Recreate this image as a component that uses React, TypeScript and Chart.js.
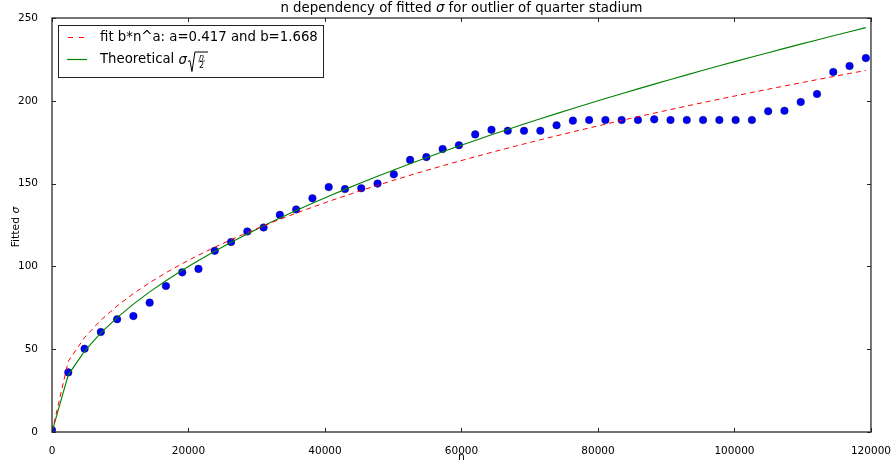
import React, { useEffect, useRef } from "react";
import { Chart, registerables } from "chart.js";

Chart.register(...registerables);

const nValues = [
  0, 2385, 4770, 7155, 9540, 11925, 14310, 16695, 19080, 21465, 23850, 26235, 28620, 31005, 33390, 35775,
  38160, 40545, 42930, 45315, 47700, 50085, 52470, 54855, 57240, 59625, 62010, 64395, 66780, 69165, 71550,
  73935, 76320, 78705, 81090, 83475, 85860, 88245, 90630, 93015, 95400, 97785, 100170, 102555, 104940,
  107325, 109710, 112095, 114480, 116865, 119250,
];

const sigmaValues = [
  1.2, 36.0, 50.3, 60.4, 68.1, 70.0, 78.1, 88.2, 96.4, 98.5, 109.4, 114.7, 121.1, 123.5, 131.1, 134.4,
  141.1, 147.9, 146.7, 147.2, 150.0, 155.6, 164.3, 166.0, 170.9, 173.2, 179.7, 182.5, 181.9, 181.9, 181.9,
  185.2, 188.0, 188.4, 188.4, 188.4, 188.4, 188.8, 188.4, 188.4, 188.4, 188.4, 188.4, 188.4, 193.7, 194.0,
  199.3, 204.1, 217.4, 221.0, 225.8,
];

// b*n^a with a=0.417, b=1.668 evaluated at nValues
const fitValues = [
  0, 42.72, 57.04, 67.55, 76.15, 83.58, 90.18, 96.17, 101.68, 106.79, 111.59, 116.12, 120.41, 124.49,
  128.4, 132.15, 135.75, 139.23, 142.59, 145.84, 148.99, 152.05, 155.03, 157.93, 160.76, 163.52, 166.22,
  168.85, 171.44, 173.96, 176.44, 178.87, 181.25, 183.59, 185.89, 188.15, 190.38, 192.57, 194.72, 196.84,
  198.93, 200.99, 203.02, 205.02, 206.99, 208.94, 210.87, 212.77, 214.64, 216.5, 218.33,
];

// sigma*sqrt(n/2) with sigma = 1 evaluated at nValues
const theoryValues = [
  0, 34.53, 48.84, 59.81, 69.07, 77.22, 84.59, 91.37, 97.67, 103.6, 109.2, 114.53, 119.63, 124.51, 129.21,
  133.75, 138.13, 142.38, 146.51, 150.53, 154.44, 158.25, 161.98, 165.62, 169.18, 172.67, 176.09, 179.44,
  182.73, 185.97, 189.15, 192.27, 195.35, 198.38, 201.36, 204.3, 207.2, 210.06, 212.88, 215.66, 218.41,
  221.12, 223.8, 226.45, 229.07, 231.66, 234.22, 236.75, 239.26, 241.73, 244.19,
];

const xTickValues = [0, 20000, 40000, 60000, 80000, 100000, 120000];
const yTickValues = [0, 50, 100, 150, 200, 250];

const titleParts = ["n dependency of fitted ", "σ", " for outlier of quarter stadium"];
const fitLabel = "fit b*n^a: a=0.417 and b=1.668";
const theoryLabel = "Theoretical ";
const xAxisLabel = "n";
const yAxisLabel = ["Fitted ", "σ"];

const FONT = "'DejaVu Sans', sans-serif";
const TICK_SIZE = 10.5;
const LABEL_SIZE = 10.8;
const BIG_SIZE = 13.3;

const decorPlugin = {
  id: "decor",
  afterDraw(chart: any) {
    const ctx: CanvasRenderingContext2D = chart.ctx;
    const a = chart.chartArea;
    const xs = chart.scales.x;
    const ys = chart.scales.y;
    ctx.save();

    // frame
    ctx.strokeStyle = "#3a3a3a";
    ctx.lineWidth = 1.4;
    ctx.strokeRect(a.left, a.top, a.right - a.left, a.bottom - a.top);

    // inward ticks on all sides
    const tl = 4;
    ctx.lineWidth = 1;
    ctx.strokeStyle = "#222";
    ctx.beginPath();
    for (const v of xTickValues) {
      const px = Math.round(xs.getPixelForValue(v)) + 0.5;
      ctx.moveTo(px, a.bottom);
      ctx.lineTo(px, a.bottom - tl);
      ctx.moveTo(px, a.top);
      ctx.lineTo(px, a.top + tl);
    }
    for (const v of yTickValues) {
      const py = Math.round(ys.getPixelForValue(v)) + 0.5;
      ctx.moveTo(a.left, py);
      ctx.lineTo(a.left + tl, py);
      ctx.moveTo(a.right, py);
      ctx.lineTo(a.right - tl, py);
    }
    ctx.stroke();

    ctx.fillStyle = "#000";
    ctx.textBaseline = "middle";

    // title
    const normal = `${BIG_SIZE}px ${FONT}`;
    const italic = `italic ${BIG_SIZE}px ${FONT}`;
    ctx.font = normal;
    const w0 = ctx.measureText(titleParts[0]).width;
    const w2 = ctx.measureText(titleParts[2]).width;
    ctx.font = italic;
    const w1 = ctx.measureText(titleParts[1]).width;
    const total = w0 + w1 + w2;
    let tx = (a.left + a.right) / 2 - total / 2;
    const ty = 9;
    ctx.textAlign = "left";
    ctx.font = normal;
    ctx.fillText(titleParts[0], tx, ty);
    tx += w0;
    ctx.font = italic;
    ctx.fillText(titleParts[1], tx, ty);
    tx += w1;
    ctx.font = normal;
    ctx.fillText(titleParts[2], tx, ty);

    // x axis label
    ctx.font = `${LABEL_SIZE}px ${FONT}`;
    ctx.textAlign = "center";
    ctx.fillText(xAxisLabel, (a.left + a.right) / 2, 457);

    // y axis label (rotated)
    ctx.save();
    ctx.translate(16, 227);
    ctx.rotate(-Math.PI / 2);
    ctx.font = `${LABEL_SIZE}px ${FONT}`;
    const yw0 = ctx.measureText(yAxisLabel[0]).width;
    ctx.font = `italic ${LABEL_SIZE}px ${FONT}`;
    const yw1 = ctx.measureText(yAxisLabel[1]).width;
    let yx = -(yw0 + yw1) / 2;
    ctx.textAlign = "left";
    ctx.font = `${LABEL_SIZE}px ${FONT}`;
    ctx.fillText(yAxisLabel[0], yx, 0);
    yx += yw0;
    ctx.font = `italic ${LABEL_SIZE}px ${FONT}`;
    ctx.fillText(yAxisLabel[1], yx, 0);
    ctx.restore();

    // legend
    const lx = 58, ly = 25, lw = 265, lh = 52;
    ctx.fillStyle = "#fff";
    ctx.fillRect(lx, ly, lw, lh);
    ctx.strokeStyle = "#222";
    ctx.lineWidth = 1;
    ctx.strokeRect(lx + 0.5, ly + 0.5, lw, lh);

    const row1 = 37.5;
    const row2 = 59.5;
    ctx.lineWidth = 1.2;
    ctx.strokeStyle = "#ff0000";
    ctx.setLineDash([5, 6]);
    ctx.beginPath();
    ctx.moveTo(68, row1);
    ctx.lineTo(86, row1);
    ctx.stroke();
    ctx.setLineDash([]);
    ctx.strokeStyle = "#008000";
    ctx.beginPath();
    ctx.moveTo(67, row2);
    ctx.lineTo(87, row2);
    ctx.stroke();

    ctx.fillStyle = "#000";
    ctx.textAlign = "left";
    ctx.font = normal;
    ctx.fillText(fitLabel, 100, row1);
    ctx.fillText(theoryLabel, 100, row2);
    let sx = 100 + ctx.measureText(theoryLabel).width;
    ctx.font = italic;
    ctx.fillText("σ", sx, row2 + 1);
    sx += ctx.measureText("σ").width + 1;
    // radical sign
    ctx.strokeStyle = "#000";
    ctx.lineWidth = 1;
    ctx.beginPath();
    ctx.moveTo(sx, row2 + 2);
    ctx.lineTo(sx + 2, row2 + 1);
    ctx.lineTo(sx + 4, row2 + 12);
    ctx.lineTo(sx + 7, row2 - 7.5);
    ctx.lineTo(sx + 20, row2 - 7.5);
    ctx.stroke();
    // fraction n/2
    const fx = sx + 13.5;
    ctx.textAlign = "center";
    ctx.font = `italic 8px ${FONT}`;
    ctx.fillText("n", fx, row2 - 2);
    ctx.beginPath();
    ctx.moveTo(fx - 3.5, row2 + 1.5);
    ctx.lineTo(fx + 3.5, row2 + 1.5);
    ctx.lineWidth = 0.7;
    ctx.stroke();
    ctx.font = `8px ${FONT}`;
    ctx.fillText("2", fx, row2 + 6.5);

    ctx.restore();
  },
};

export default function App() {
  const canvasRef = useRef<HTMLCanvasElement | null>(null);

  useEffect(() => {
    document.body.style.margin = "0";
    const canvas = canvasRef.current;
    if (!canvas) return;
    const toPts = (ys: number[]) => nValues.map((n, i) => ({ x: n, y: ys[i] }));
    const chart = new Chart(canvas, {
      type: "scatter",
      data: {
        datasets: [
          {
            label: "fit",
            data: toPts(fitValues),
            showLine: true,
            borderColor: "#ff0000",
            borderWidth: 1,
            borderDash: [5, 4],
            pointRadius: 0,
            fill: false,
            clip: 0,
            order: 1,
          } as any,
          {
            label: "theory",
            data: toPts(theoryValues),
            showLine: true,
            borderColor: "#008000",
            borderWidth: 1.1,
            pointRadius: 0,
            fill: false,
            clip: 0,
            order: 2,
          } as any,
          {
            label: "data",
            data: toPts(sigmaValues),
            showLine: false,
            backgroundColor: "#0000ff",
            borderColor: "rgba(0,0,60,0.8)",
            borderWidth: 0.5,
            pointRadius: 3.8,
            clip: 0,
            order: 3,
          } as any,
        ],
      },
      options: {
        responsive: false,
        animation: false,
        layout: { padding: { top: 18, right: 21, left: 0, bottom: 0 } },
        plugins: {
          legend: { display: false },
          title: { display: false },
          tooltip: { enabled: false },
        },
        scales: {
          x: {
            type: "linear",
            min: 0,
            max: 120000,
            afterFit: (s: any) => {
              s.height = 36;
            },
            afterBuildTicks: (s: any) => {
              s.ticks = xTickValues.map((v) => ({ value: v }));
            },
            ticks: {
              callback: (v: any) => String(v),
              font: { family: FONT, size: TICK_SIZE },
              color: "#000",
              padding: 5,
              maxRotation: 0,
              autoSkip: false,
            },
            grid: { display: false },
            border: { display: false },
          },
          y: {
            type: "linear",
            min: 0,
            max: 250,
            afterFit: (s: any) => {
              s.width = 52;
            },
            afterBuildTicks: (s: any) => {
              s.ticks = yTickValues.map((v) => ({ value: v }));
            },
            ticks: {
              callback: (v: any) => String(v),
              font: { family: FONT, size: TICK_SIZE },
              color: "#000",
              padding: 6,
              autoSkip: false,
            },
            grid: { display: false },
            border: { display: false },
          },
        },
      } as any,
      plugins: [decorPlugin],
    });
    return () => chart.destroy();
  }, []);

  return (
    <div style={{ position: "absolute", left: 0, top: 0, width: 896, height: 468 }}>
      <canvas ref={canvasRef} width={896} height={468} style={{ display: "block" }} />
    </div>
  );
}
